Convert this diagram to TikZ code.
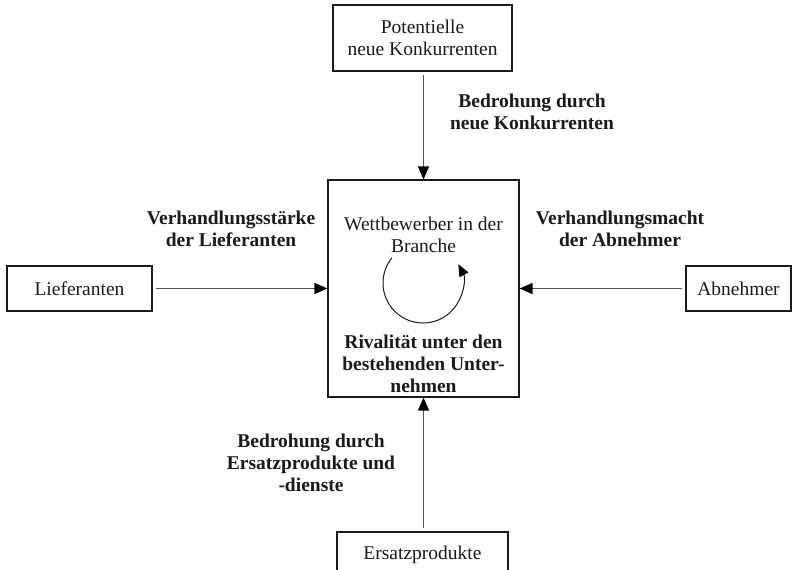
\documentclass[tikz,border=0pt]{standalone}
\usepackage{fontspec}
\setmainfont{Liberation Serif}
\usetikzlibrary{arrows.meta}
\definecolor{linegray}{HTML}{555555}
\definecolor{textdark}{HTML}{1A1A1A}
\tikzset{
  box/.style={draw=textdark, line width=1.1pt, inner sep=0pt, align=center, text=textdark,
    font=\fontsize{19.5}{22.5}\selectfont},
  lbl/.style={align=center, text=textdark, font=\fontsize{19.5}{22}\selectfont\bfseries},
  conn/.style={draw=linegray, line width=1.2pt, -{Triangle[length=13pt,width=11pt,color=black]}, shorten <=3pt},
}
\begin{document}
\begin{tikzpicture}[x=1pt,y=1pt]
\useasboundingbox (0,0) rectangle (793,-570);
% boxes
\node[box, minimum width=179pt, minimum height=66pt] (pot) at (422.5,-38) {Potentielle\\neue Konkurrenten};
\node[box, minimum width=191pt, minimum height=217pt] (wett) at (423.5,-288.5) {};
\node[box, minimum width=145pt, minimum height=45pt] (lief) at (79.5,-288.5) {Lieferanten};
\node[box, minimum width=105pt, minimum height=45pt] (abn) at (738.5,-288.5) {Abnehmer};
\node[box, minimum width=171pt, minimum height=45pt] (ers) at (422.5,-554.5) {Ersatzprodukte};
% texts in centre box
\node[align=center, text=textdark, font=\fontsize{19.5}{22.5}\selectfont] (wtxt) at (423.5,-235) {Wettbewerber in der\\Branche};
\node[lbl] (riv) at (423.5,-364) {Rivalität unter den\\bestehenden Unter-\\nehmen};
% circular arrow
\coordinate (cc) at (423,-283);
\draw[draw=textdark, line width=1pt, -{Triangle[length=12pt,width=10pt,color=black]}]
  ([shift={(141:40)}]cc) arc[start angle=141, end angle=388, radius=40];
% labels
\node[lbl] (l1) at (532,-112) {Bedrohung durch\\neue Konkurrenten};
\node[lbl] (l2) at (231,-229) {Verhandlungsstärke\\der Lieferanten};
\node[lbl] (l3) at (620,-229) {Verhandlungsmacht\\der Abnehmer};
\node[lbl] (l4) at (311,-463) {Bedrohung durch\\Ersatzprodukte und\\-dienste};
% connectors
\draw[conn] (pot.south -| wett.north) -- (wett.north);
\draw[conn] (lief.east) -- (wett.west);
\draw[conn] (abn.west) -- (wett.east);
\draw[conn] (ers.north -| wett.south) -- (wett.south);
\end{tikzpicture}
\end{document}
